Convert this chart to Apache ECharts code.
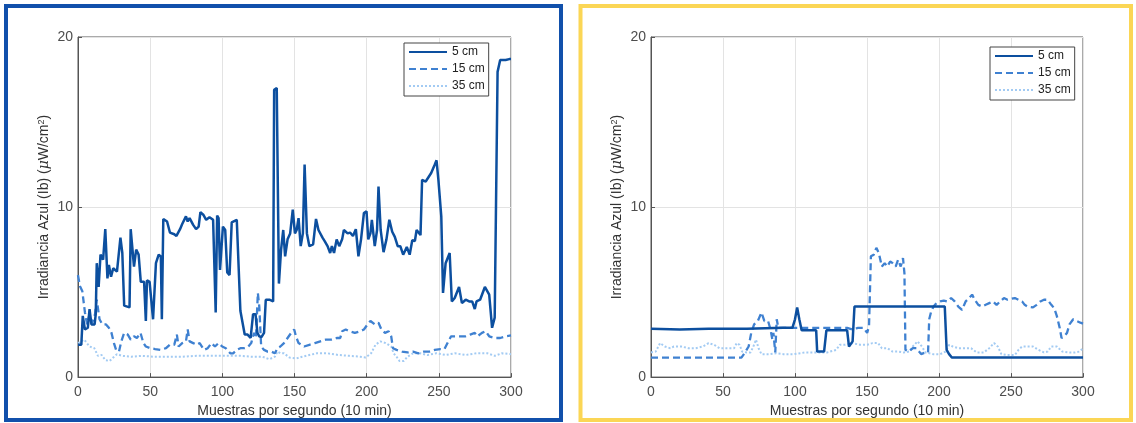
<!DOCTYPE html>
<html>
<head>
<meta charset="utf-8">
<title>Irradiancia Azul</title>
<script src="https://cdn.jsdelivr.net/npm/echarts@6/dist/echarts.min.js"></script>
<style>
  html, body { margin: 0; padding: 0; background: #fff; }
  #main { width: 1136px; height: 423px; }
</style>
</head>
<body>
<div id="main"></div>
<script>
// muestras [x, valor]
const seriesNames = ['5 cm', '15 cm', '35 cm'];

const left5 = [[0,1.9],[2.3,1.9],[3.3,3.6],[4.8,2.8],[6.8,2.9],[8,4.0],[9.3,3.1],[11.5,3.1],[12.3,3.7],[13,6.7],[14.3,5.3],[15.6,7.2],[17.4,6.9],[18.9,8.7],[20.4,5.8],[21.4,6.6],[22.9,5.9],[24.4,6.4],[27,6.2],[28.2,6.3],[29.4,8.2],[30.7,7.3],[32,4.2],[35.7,4.1],[36.5,8.7],[37.5,8.7],[38.8,6.5],[40.3,7.5],[42,7.2],[43.5,5.6],[45.8,5.6],[47,3.3],[47.8,5.7],[49.6,5.6],[52,3.4],[54,6.7],[55.9,7.2],[57.4,7.1],[58.1,3.4],[59.1,9.3],[61.7,9.15],[63.7,8.5],[66.7,8.4],[68.2,8.3],[70.7,8.7],[72.2,9.0],[74.8,9.45],[76,9.15],[77.3,9.35],[79.8,8.95],[81.8,8.7],[83.6,8.85],[84.8,9.7],[86.8,9.55],[88.8,9.25],[91.1,9.4],[93.6,9.25],[95.4,3.8],[96.4,9.5],[97.4,9.35],[98.4,6.3],[99.4,6.3],[100.4,8.85],[102,8.65],[103.4,6.15],[105,6.0],[106.5,9.1],[110,9.25],[111.2,9.3],[112.5,3.9],[113.8,3.8],[115.5,2.5],[117.5,2.5],[119.6,2.3],[121.3,3.7],[123,3.7],[124.3,2.6],[125.6,2.4],[127.1,2.35],[128.9,2.6],[130.1,4.55],[132.6,4.55],[135.2,4.45],[135.9,16.9],[137.7,17.0],[139.2,5.5],[140.7,7.5],[142.2,8.65],[143.5,7.1],[145.2,8.1],[147,8.45],[148.8,9.85],[150.3,8.45],[151.5,8.65],[152.8,9.35],[154.3,7.7],[155.8,8.45],[157,12.5],[158.6,8.45],[160.3,7.7],[162.9,7.8],[164.9,9.3],[166.6,8.65],[167.9,8.7],[169.4,8.2],[170.9,8.0],[172.9,7.7],[174.7,7.3],[175.9,7.7],[177.4,7.3],[179.2,8.1],[181,7.7],[183,8.1],[184.2,8.65],[185.5,8.65],[186.8,8.45],[188.5,8.5],[190.5,8.3],[192.5,8.7],[194.3,7.1],[196.1,8.1],[198.1,9.65],[199.9,9.75],[201.1,8.1],[202.6,8.45],[203.6,9.25],[205.6,7.7],[207.2,8.65],[208.2,11.2],[209.7,8.65],[211.7,7.35],[213.7,8.1],[215.7,9.25],[217.7,8.55],[219.5,8.25],[221.5,7.7],[223.3,7.7],[225.3,7.2],[227.8,7.65],[229.8,7.2],[231.6,8.05],[233.4,8.0],[234.6,8.65],[235.8,8.65],[237.3,8.35],[238.4,11.6],[240.9,11.5],[244.7,12.0],[247.2,12.5],[248.4,12.75],[249.7,11.6],[251.7,9.45],[252.9,4.95],[254.7,6.7],[255.9,6.8],[257.5,7.3],[259,4.45],[261,4.65],[264,5.3],[266,4.35],[268.6,4.55],[271,4.45],[273.1,4.45],[274.9,4.0],[276.1,4.45],[278.6,4.55],[281.9,5.3],[284.9,4.85],[286.9,2.9],[288.7,3.5],[290.7,17.95],[292.5,18.65],[296.3,18.65],[298.8,18.7],[300,18.7]];

const left15 = [[0,6.0],[1.3,5.35],[3,5.05],[4.8,3.8],[6.3,3.1],[8,3.7],[9.8,3.2],[11.8,3.7],[13,4.55],[14.9,3.4],[16.9,3.1],[19.4,3.1],[21.4,2.9],[23.2,2.6],[24.9,2.0],[26.4,1.6],[28.4,1.5],[30,2.1],[32,2.6],[34.5,2.5],[36.5,2.2],[38.8,2.4],[40.8,2.3],[43.3,2.6],[45.3,2.0],[47,1.8],[50,1.7],[53.4,1.65],[57,1.6],[61,1.7],[63.5,1.9],[66.7,1.9],[68.5,2.5],[69.7,1.8],[72.2,2.0],[74.8,2.1],[76,2.8],[77.3,2.1],[79.8,2.0],[82.3,1.9],[84.3,2.0],[87.3,1.6],[89.9,1.7],[92.4,2.0],[94.9,1.8],[97.4,2.0],[99.9,1.8],[102.4,1.7],[105.5,1.4],[107.5,1.4],[110,1.6],[112.5,1.7],[115.5,1.7],[118,1.8],[120,2.0],[122,2.6],[123.3,2.3],[124.6,4.95],[125.6,4.15],[126.9,1.8],[128.9,1.6],[131.4,1.5],[133.9,1.5],[136.4,1.4],[138.2,1.7],[140.2,1.8],[142.7,2.0],[145.2,2.3],[147.7,2.6],[149.8,2.8],[151,2.4],[152.8,2.0],[156.6,1.8],[160.3,1.9],[164.1,2.0],[167.9,2.1],[171.7,2.2],[175.4,2.2],[179.2,2.3],[181.7,2.3],[183,2.7],[185.5,2.8],[188,2.7],[191.8,2.6],[195.6,2.7],[198.1,2.8],[200.6,3.1],[202.6,3.3],[205.6,3.1],[208.2,3.2],[210.2,2.8],[212.7,2.6],[215.2,2.7],[217,2.4],[218.2,1.7],[220.7,1.6],[224.5,1.5],[228.3,1.45],[232.1,1.5],[235.8,1.4],[239.6,1.5],[243.4,1.5],[247.2,1.6],[251,1.65],[253.9,1.65],[256,2.0],[258.5,2.4],[262.3,2.4],[265.5,2.4],[268.6,2.4],[271.7,2.5],[274.9,2.6],[276.7,2.4],[279.9,2.6],[282.4,2.7],[284.9,2.4],[288.7,2.3],[292.5,2.3],[296.3,2.4],[300,2.45]];

const left35 = [[0,2.0],[4.3,2.2],[8,1.8],[11.3,1.7],[13.8,1.25],[16.4,1.3],[18.9,1.0],[21.9,0.95],[24.4,1.15],[27,1.35],[30.7,1.25],[37,1.2],[44.5,1.25],[52,1.2],[62.2,1.2],[72.2,1.2],[82.3,1.25],[92.4,1.25],[102.4,1.25],[112.5,1.25],[120,1.2],[127.6,1.2],[132.6,1.05],[136.4,1.2],[138.2,1.5],[140.2,1.4],[142.7,1.4],[146.5,1.15],[151.5,1.1],[155.3,1.2],[160.3,1.3],[165.4,1.4],[172.9,1.4],[180.5,1.3],[188,1.25],[195.6,1.2],[199.3,1.15],[203.1,1.4],[206.1,1.9],[209.4,2.1],[213.2,2.0],[217,1.8],[218.7,1.4],[220.7,1.2],[222.7,0.95],[225.8,0.95],[228.3,1.2],[232.1,1.4],[237.1,1.4],[242.1,1.3],[248.4,1.4],[254.7,1.3],[261,1.4],[268.6,1.3],[276.1,1.4],[283.7,1.4],[288.7,1.25],[293.7,1.4],[300,1.35]];

const right5 = [[0,2.85],[20,2.8],[40,2.85],[66.6,2.85],[91.9,2.9],[98.2,2.9],[100,3.4],[101.5,4.1],[103,3.4],[104.6,2.75],[114.7,2.75],[115.4,1.5],[120.2,1.5],[121.8,2.75],[136.2,2.75],[137.5,1.8],[138.7,1.8],[140,2.1],[141.3,4.15],[204,4.15],[205.3,1.6],[207,1.35],[208.9,1.15],[253.9,1.15],[254.4,1.25],[255,1.15],[300,1.15]];

const right15 = [[0,1.15],[62.8,1.15],[65.3,1.45],[67.8,1.8],[69.6,2.6],[71.6,3.1],[74.2,3.3],[76.7,3.8],[78.7,3.3],[81.3,3.3],[83,2.8],[84.3,2.2],[85,2.6],[86.3,1.45],[87.3,3.4],[88.4,2.9],[91.9,2.9],[104.6,2.9],[117.2,2.9],[136.2,2.9],[140,2.8],[143.8,2.9],[147.6,2.9],[150.1,2.6],[151.4,3.0],[152.7,7.1],[154.7,7.2],[156.5,7.6],[158.2,7.3],[160.3,6.5],[162.3,6.7],[164.1,6.5],[166.1,6.8],[167.8,6.7],[169.9,6.5],[171.6,6.9],[173.4,6.5],[175,7.0],[176,6.1],[176.7,1.6],[179.2,1.5],[181.8,1.7],[184.3,1.7],[187.6,1.35],[190.6,1.45],[192.4,1.45],[193.2,3.4],[194.4,3.8],[196.2,4.15],[198.2,4.35],[200.8,4.45],[203.3,4.5],[205.8,4.45],[208.4,4.65],[210.9,4.45],[213.4,4.15],[216,3.95],[218.5,4.45],[221,4.65],[223,4.85],[224.8,4.55],[227.3,4.25],[229.9,4.15],[232.4,4.25],[234.9,4.35],[237.5,4.45],[240,4.25],[242.5,4.45],[245.1,4.65],[247.6,4.55],[250.1,4.6],[252.7,4.65],[255.2,4.55],[257.7,4.45],[259.5,4.25],[261.5,4.15],[265.3,4.1],[267.8,4.25],[270.4,4.45],[272.9,4.55],[275.4,4.55],[278,4.25],[280,4.05],[281.8,3.6],[283.8,2.9],[285.1,2.3],[286.8,2.4],[288.9,2.6],[290.6,3.1],[293.2,3.4],[295.7,3.3],[298.2,3.2],[300,3.15]];

const right35 = [[0,1.45],[3.3,1.5],[6.3,2.0],[9.6,1.8],[13.4,1.7],[15.9,1.8],[21,1.8],[26,1.7],[31.1,1.7],[36.2,1.8],[40,2.0],[43.8,1.9],[47.6,1.7],[52.7,1.7],[57.7,1.7],[59.5,2.0],[61.5,1.9],[63.3,1.5],[66.6,1.45],[69.1,1.45],[71.1,1.8],[72.9,2.2],[74.7,1.7],[76.7,1.35],[81.8,1.35],[86.8,1.4],[91.9,1.35],[99.5,1.35],[107.1,1.45],[114.7,1.45],[122.3,1.45],[128.6,1.6],[131.1,1.9],[134.9,1.9],[140,2.0],[145.1,1.9],[150.1,1.9],[153.9,2.0],[157.7,2.0],[160.3,1.7],[164.1,1.7],[167.8,1.5],[171.6,1.5],[175.4,1.45],[179.2,1.5],[181.8,1.8],[185.1,2.1],[188.1,1.8],[190.6,1.45],[195.7,1.35],[200.8,1.35],[204.6,1.5],[207.1,1.9],[209.6,1.8],[213.4,1.7],[218.5,1.7],[222.3,1.7],[226.1,1.45],[231.1,1.45],[234.9,1.7],[238.2,2.0],[240.8,1.8],[243.3,1.35],[247.6,1.3],[252.7,1.3],[255.2,1.6],[257.7,1.8],[261.5,1.8],[265.3,1.8],[269.1,1.6],[272.9,1.45],[275.4,1.5],[278,1.8],[281.8,1.8],[285.6,1.5],[290.6,1.45],[294.4,1.45],[297.5,1.5],[300,1.7]];

const colors = ['#0c4f9f', '#3f81d1', '#a3cbf3'];
const lineTypes = ['solid', [7, 4], [2, 2]];
const lineWidths = [2.5, 2.3, 2];
const FONT = 'Liberation Sans, Arial, Helvetica, sans-serif';

let chart = echarts.init(document.getElementById('main'), null, { renderer: 'canvas' });

let yName = '{n|Irradiancia Azul (Ib) (}{mu|μ}{n|W/cm}{sup|2}{n|)}';

function makeX(gridIndex) {
	return {
		type: 'value', gridIndex: gridIndex, min: 0, max: 300, interval: 50,
		name: 'Muestras por segundo (10 min)', nameLocation: 'middle', nameGap: 26,
		nameTextStyle: { color: '#333', fontSize: 14, fontFamily: FONT },
		axisLine: { lineStyle: { color: '#555', width: 1 } },
		axisTick: { inside: true, length: 4, lineStyle: { color: '#555' } },
		axisLabel: { color: '#4d4d4d', fontSize: 14, fontFamily: FONT, margin: 8 },
		splitLine: { show: true, lineStyle: { color: '#e3e3e3', width: 1 } }
	};
}

function makeY(gridIndex) {
	return {
		type: 'value', gridIndex: gridIndex, min: 0, max: 20, interval: 10,
		name: yName, nameLocation: 'middle', nameGap: 27,
		nameTextStyle: {
			color: '#333', fontSize: 14, fontFamily: FONT,
			rich: {
				n: { fontSize: 14, color: '#333', fontFamily: FONT },
				mu: { fontSize: 14, color: '#333', fontStyle: 'italic', fontFamily: 'DejaVu Serif, serif' },
				sup: { fontSize: 9, color: '#333', fontFamily: FONT, verticalAlign: 'top', padding: [0, 0, 5, 0] }
			}
		},
		axisLine: { show: true, lineStyle: { color: '#555', width: 1 } },
		axisTick: { show: true, inside: true, length: 4, lineStyle: { color: '#555' } },
		axisLabel: { color: '#4d4d4d', fontSize: 14, fontFamily: FONT, margin: 5 },
		splitLine: { show: true, lineStyle: { color: '#e3e3e3', width: 1 } }
	};
}

function makeSeries(name, data, idx, axisIndex) {
	return {
		name: name, type: 'line', data: data,
		xAxisIndex: axisIndex, yAxisIndex: axisIndex,
		showSymbol: false, symbol: 'none', animation: false,
		z: 10 - idx,
		lineStyle: { color: colors[idx], width: lineWidths[idx], type: lineTypes[idx] },
		itemStyle: { color: colors[idx] }
	};
}

function makeLegend(left, top) {
	return {
		orient: 'vertical', left: left, top: top,
		data: seriesNames,
		itemWidth: 38, itemHeight: 12, itemGap: 5,
		padding: [3, 4, 4, 4],
		borderColor: '#444', borderWidth: 1, backgroundColor: '#fff',
		selectedMode: false,
		itemStyle: { opacity: 0 },
		textStyle: { color: '#222', fontSize: 12, fontFamily: FONT }
	};
}

let options = {
	backgroundColor: '#fff',
	animation: false,
	grid: [
		{ left: 78, top: 37, width: 433, height: 341, show: true, borderColor: '#555', borderWidth: 1, backgroundColor: '#fff' },
		{ left: 651, top: 37, width: 432, height: 341, show: true, borderColor: '#555', borderWidth: 1, backgroundColor: '#fff' }
	],
	xAxis: [makeX(0), makeX(1)],
	yAxis: [makeY(0), makeY(1)],
	legend: [makeLegend(404, 43), makeLegend(990, 47)],
	series: [
		makeSeries(seriesNames[2], left35, 2, 0),
		makeSeries(seriesNames[1], left15, 1, 0),
		makeSeries(seriesNames[0], left5, 0, 0),
		makeSeries(seriesNames[2], right35, 2, 1),
		makeSeries(seriesNames[1], right15, 1, 1),
		makeSeries(seriesNames[0], right5, 0, 1)
	],
	graphic: [
		{ type: 'rect', shape: { x: 6, y: 6, width: 555, height: 414 }, style: { fill: null, stroke: '#1150ab', lineWidth: 4 }, silent: true },
		{ type: 'rect', shape: { x: 580.5, y: 6, width: 550.5, height: 414 }, style: { fill: null, stroke: '#fbd655', lineWidth: 4 }, silent: true }
	]
};

chart.setOption(options);
</script>
</body>
</html>
